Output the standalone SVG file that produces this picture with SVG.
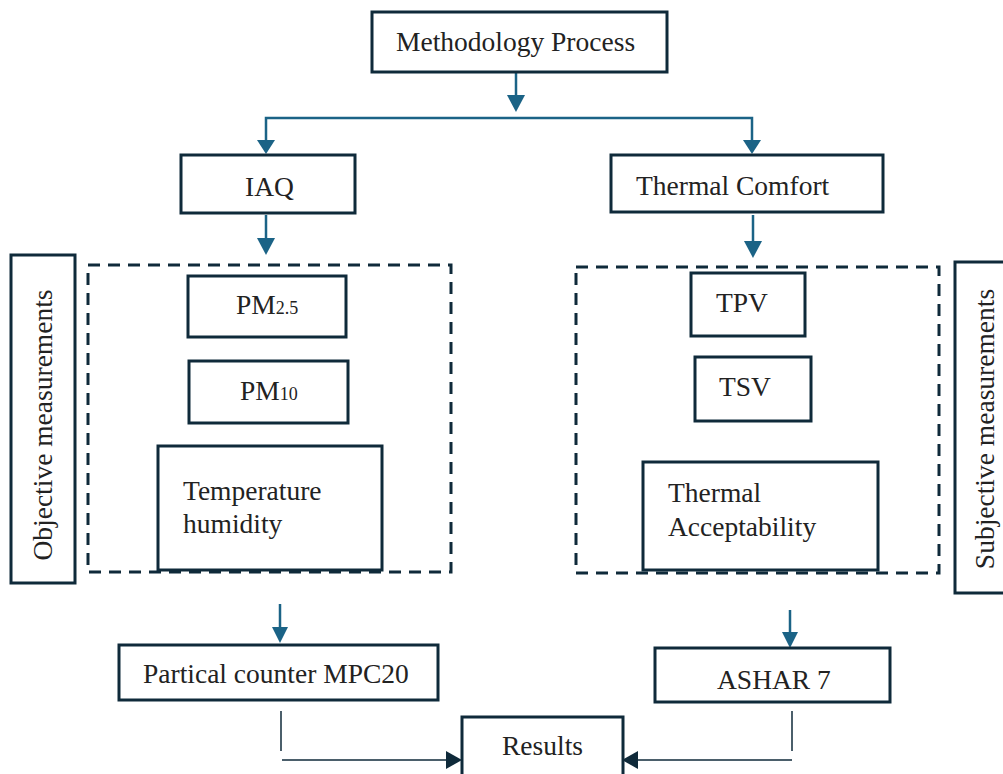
<svg xmlns="http://www.w3.org/2000/svg" width="1003" height="774" viewBox="0 0 1003 774">
<defs>
<style>
.box{fill:#fff;stroke:#0f2a3a;stroke-width:3}
.dash{fill:none;stroke:#0f2a3a;stroke-width:3;stroke-dasharray:12,8}
.t{font-family:"Liberation Serif","Times New Roman",serif;font-size:27.5px;fill:#222}
.sub{font-size:18px}
.blue{fill:none;stroke:#1b6386;stroke-width:2.5}
.dark{fill:none;stroke:#0f2a3a;stroke-width:1.5}
.hb{fill:#1b6386}
.hd{fill:#0f2a3a}
</style>
</defs>
<g id="connectors">
<path class="blue" d="M516,73 V98"/>
<path class="hb" d="M507,95 L525,95 L516,112 z"/>
<path class="blue" d="M266,142 V118 H752 V142"/>
<path class="hb" d="M257,140 L275,140 L266,154 z"/>
<path class="hb" d="M743,140 L761,140 L752,154 z"/>
<path class="blue" d="M266,215 V240"/>
<path class="hb" d="M257,238 L275,238 L266,255 z"/>
<path class="blue" d="M753,215 V243"/>
<path class="hb" d="M744,241 L762,241 L753,258 z"/>
<path class="blue" d="M280,604 V630"/>
<path class="hb" d="M272,627 L288,627 L280,643 z"/>
<path class="blue" d="M790,610 V636"/>
<path class="hb" d="M782,632 L798,632 L790,648 z"/>
<path class="dark" d="M281,711 V751"/>
<path class="dark" d="M282,760 H452"/>
<path class="hd" d="M446,751 L462,760 L446,769 z"/>
<path class="dark" d="M792,711 V751"/>
<path class="dark" d="M792,760 H632"/>
<path class="hd" d="M638,751 L622,760 L638,769 z"/>
</g>
<g id="n-method"><rect class="box" x="372" y="12" width="295" height="60"/><text class="t" x="396" y="51">Methodology Process</text></g>
<g id="n-iaq"><rect class="box" x="181" y="155" width="174" height="58"/><text class="t" x="245" y="196">IAQ</text></g>
<g id="n-thermal"><rect class="box" x="611" y="155" width="272" height="57"/><text class="t" x="636" y="195">Thermal Comfort</text></g>
<g id="g-left"><rect class="dash" x="88" y="265" width="363" height="307"/></g>
<g id="g-right"><rect class="dash" x="576" y="267" width="363" height="306"/></g>
<g id="n-pm25"><rect class="box" x="188" y="276" width="158" height="61"/><text class="t" x="236" y="314">PM<tspan class="sub">2.5</tspan></text></g>
<g id="n-pm10"><rect class="box" x="189" y="361" width="159" height="62"/><text class="t" x="240" y="400">PM<tspan class="sub">10</tspan></text></g>
<g id="n-temp"><rect class="box" x="158" y="446" width="224" height="124"/><text class="t" x="183" y="500">Temperature</text><text class="t" x="183" y="533">humidity</text></g>
<g id="n-obj"><rect class="box" x="11" y="255" width="64" height="328"/><text class="t" transform="translate(52,425) rotate(-90)" text-anchor="middle">Objective measurements</text></g>
<g id="n-tpv"><rect class="box" x="691" y="273" width="114" height="63"/><text class="t" x="716" y="312">TPV</text></g>
<g id="n-tsv"><rect class="box" x="695" y="357" width="116" height="64"/><text class="t" x="719" y="396">TSV</text></g>
<g id="n-accept"><rect class="box" x="643" y="462" width="235" height="108"/><text class="t" x="668" y="502">Thermal</text><text class="t" x="668" y="536">Acceptability</text></g>
<g id="n-subj"><rect class="box" x="955" y="262" width="60" height="331"/><text class="t" transform="translate(994,429) rotate(-90)" text-anchor="middle">Subjective measurements</text></g>
<g id="n-counter"><rect class="box" x="119" y="645" width="319" height="55"/><text class="t" x="143" y="683">Partical counter MPC20</text></g>
<g id="n-ashar"><rect class="box" x="655" y="648" width="235" height="54"/><text class="t" x="717" y="689">ASHAR 7</text></g>
<g id="n-results"><rect class="box" x="462" y="717" width="161" height="70"/><text class="t" x="502" y="755">Results</text></g>
</svg>
